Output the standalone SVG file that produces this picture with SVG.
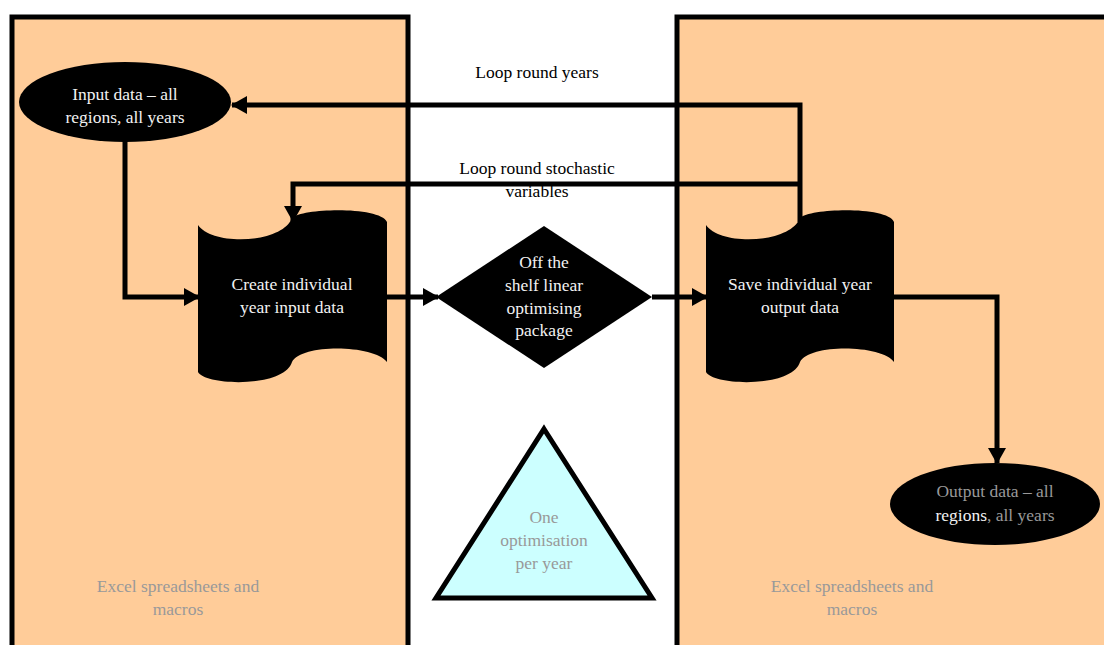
<svg xmlns="http://www.w3.org/2000/svg" width="1104" height="645" viewBox="0 0 1104 645">
<defs>
<style>
.panel{fill:#FFCC99;stroke:#000;stroke-width:5}
.blk{fill:#000}
.conn{fill:none;stroke:#000;stroke-width:5}
text{font-family:"Liberation Serif","DejaVu Serif",serif;font-size:17.5px;text-anchor:middle}
.wt{fill:#F2F2F2}
.gt{fill:#999999}
.bt{fill:#000}
</style>
<marker id="ah" markerUnits="userSpaceOnUse" markerWidth="16" markerHeight="18" refX="15" refY="9" orient="auto">
<path d="M0,0 L16,9 L0,18 z" fill="#000"/>
</marker>
</defs>
<rect width="1104" height="645" fill="#fff"/>
<g id="panel-left">
<rect class="panel" x="12" y="17" width="396" height="700"/>
<text class="gt" x="178" y="592">Excel spreadsheets and</text>
<text class="gt" x="178" y="615">macros</text>
</g>
<g id="panel-right">
<rect class="panel" x="677" y="17" width="500" height="700"/>
<text class="gt" x="852" y="592">Excel spreadsheets and</text>
<text class="gt" x="852" y="615">macros</text>
</g>
<g id="connectors">
<path class="conn" d="M800,222 V105 H232" marker-end="url(#ah)"/>
<path class="conn" d="M800,184 H293 V221" marker-end="url(#ah)"/>
<path class="conn" d="M125,140 V297 H199" marker-end="url(#ah)"/>
<path class="conn" d="M387,297 H438" marker-end="url(#ah)"/>
<path class="conn" d="M652,297 H707" marker-end="url(#ah)"/>
<path class="conn" d="M894,297 H997 V463" marker-end="url(#ah)"/>
<text class="bt" x="537" y="78">Loop round years</text>
<text class="bt" x="537" y="174">Loop round stochastic</text>
<text class="bt" x="537" y="197">variables</text>
</g>
<g id="input-data">
<ellipse class="blk" cx="125" cy="102" rx="106" ry="40"/>
<text class="wt" x="125" y="100">Input data – all</text>
<text class="wt" x="125" y="123">regions, all years</text>
</g>
<g id="create-input">
<path class="blk" d="M198,225 C212,246 282,244 292,218 C302,208 380,206 387,222 L387,362 C375,345 302,343 292,362 C284,388 206,386 198,372 Z"/>
<text class="wt" x="292" y="290">Create individual</text>
<text class="wt" x="292" y="313">year input data</text>
</g>
<g id="optimiser">
<polygon class="blk" points="544,226 652,297 544,368 436,297"/>
<text class="wt" x="544" y="268">Off the</text>
<text class="wt" x="544" y="291">shelf linear</text>
<text class="wt" x="544" y="314">optimising</text>
<text class="wt" x="544" y="336">package</text>
</g>
<g id="save-output">
<path class="blk" d="M706,225 C720,246 790,244 800,218 C810,208 888,206 894,222 L894,362 C883,345 810,343 800,362 C792,388 714,386 706,372 Z"/>
<text class="wt" x="800" y="290">Save individual year</text>
<text class="wt" x="800" y="313">output data</text>
</g>
<g id="output-data">
<ellipse class="blk" cx="995" cy="504" rx="105" ry="41"/>
<text class="gt" x="995" y="497">Output data – all</text>
<text x="995" y="521"><tspan class="wt">regions</tspan><tspan class="gt">, all years</tspan></text>
</g>
<g id="one-per-year">
<polygon points="544,429 652,598 436,598" fill="#CCFFFF" stroke="#000" stroke-width="5" stroke-linejoin="miter"/>
<text class="gt" x="544" y="523">One</text>
<text class="gt" x="544" y="546">optimisation</text>
<text class="gt" x="544" y="569">per year</text>
</g>
</svg>
